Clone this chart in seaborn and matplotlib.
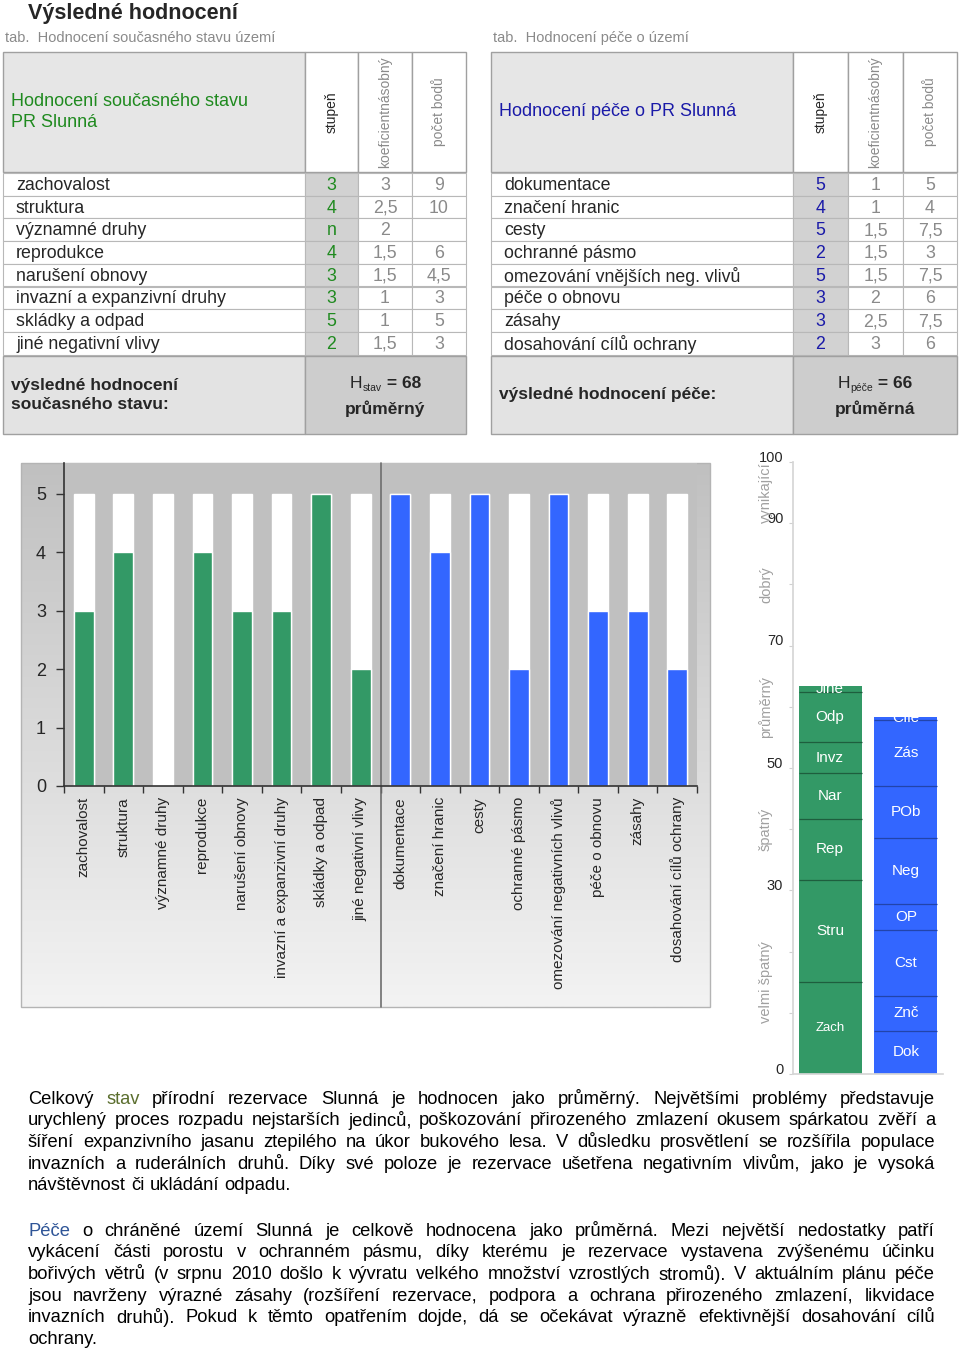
import numpy as np
import pandas as pd
import matplotlib
matplotlib.use("Agg")
import matplotlib.pyplot as plt
import matplotlib.transforms as mtransforms
from matplotlib.patches import Rectangle
from matplotlib.colors import LinearSegmentedColormap
import seaborn as sns

# --- tabulka: hodnoceni soucasneho stavu ---
stav_kriteria = ["zachovalost", "struktura", "významné druhy", "reprodukce",
                 "narušení obnovy", "invazní a expanzivní druhy", "skládky a odpad",
                 "jiné negativní vlivy"]
stav_stupen = ["3", "4", "n", "4", "3", "3", "5", "2"]
stav_koef = ["3", "2,5", "2", "1,5", "1,5", "1", "1", "1,5"]
stav_body = ["9", "10", "", "6", "4,5", "3", "5", "3"]

# --- tabulka: hodnoceni pece ---
pece_kriteria = ["dokumentace", "značení hranic", "cesty", "ochranné pásmo",
                 "omezování vnějších neg. vlivů", "péče o obnovu", "zásahy",
                 "dosahování cílů ochrany"]
pece_stupen = ["5", "4", "5", "2", "5", "3", "3", "2"]
pece_koef = ["1", "1", "1,5", "1,5", "1,5", "2", "2,5", "3"]
pece_body = ["5", "4", "7,5", "3", "7,5", "6", "7,5", "6"]

# --- sloupcovy graf stupnu ---
stav_osa = ["zachovalost", "struktura", "významné druhy", "reprodukce",
            "narušení obnovy", "invazní a expanzivní druhy", "skládky a odpad",
            "jiné negativní vlivy"]
stav_hodnoty = [3, 4, 0, 4, 3, 3, 5, 2]
pece_osa = ["dokumentace", "značení hranic", "cesty", "ochranné pásmo",
            "omezování negativních vlivů", "péče o obnovu", "zásahy",
            "dosahování cílů ochrany"]
pece_hodnoty = [5, 4, 5, 2, 5, 3, 3, 2]
max_stupen = 5

# --- skladany graf (procenta) ---
stav_zkratky = ["Zach", "Stru", "Rep", "Nar", "Invz", "Odp", "Jiné"]
stav_podil = [15, 16.7, 10, 7.5, 5, 8.3, 0.9]
pece_zkratky = ["Dok", "Znč", "Cst", "OP", "Neg", "POb", "Zás", "Cíle"]
pece_podil = [7.1, 5.7, 10.7, 4.3, 10.7, 8.6, 10.7, 0.6]
stupnice_popisky = ["velmi špatný", "špatný", "průměrný", "dobrý", "vynikající"]
stupnice_stred = [15, 40, 60, 80, 95]
stupnice_ticky = ["0", "", "", "30", "", "50", "", "70", "", "90", "100"]

# --- texty ---
odst_stav = [
    "Celkový stav přírodní rezervace Slunná je hodnocen jako průměrný. Největšími problémy představuje",
    "urychlený proces rozpadu nejstarších jedinců, poškozování přirozeného zmlazení okusem spárkatou zvěří a",
    "šíření expanzivního jasanu ztepilého na úkor bukového lesa. V důsledku prosvětlení se rozšířila populace",
    "invazních a ruderálních druhů. Díky své poloze je rezervace ušetřena negativním vlivům, jako je vysoká",
    "návštěvnost či ukládání odpadu.",
]
odst_pece = [
    "Péče o chráněné území Slunná je celkově hodnocena jako průměrná. Mezi největší nedostatky patří",
    "vykácení části porostu v ochranném pásmu, díky kterému je rezervace vystavena zvýšenému účinku",
    "bořivých větrů (v srpnu 2010 došlo k vývratu velkého množství vzrostlých stromů). V aktuálním plánu péče",
    "jsou navrženy výrazné zásahy (rozšíření rezervace, podpora a ochrana přirozeného zmlazení, likvidace",
    "invazních druhů). Pokud k těmto opatřením dojde, dá se očekávat výrazně efektivnější dosahování cílů",
    "ochrany.",
]

sns.set_theme(style="white")
plt.rcParams["font.family"] = ["Liberation Sans", "DejaVu Sans"]

ZELENA = "#339966"
MODRA = "#3366ff"
ZEL_TEXT = "#1f8a1f"
MOD_TEXT = "#1a1aa8"
SEDY_TEXT = "#8a8a8a"
OKRAJ = "#a0a0a0"

fig = plt.figure(figsize=(9.6, 13.51), dpi=100)
lay = fig.add_axes([0, 0, 1, 1], zorder=0)
lay.set_autoscale_on(False)
lay.set_xlim(0, 960)
lay.set_ylim(1351, 0)
lay.axis("off")
renderer = fig.canvas.get_renderer()


def sirka(s, **kw):
    t = lay.text(0, 0, s, **kw)
    w = t.get_window_extent(renderer=renderer).width
    t.remove()
    return w


lay.text(28, 13, "Výsledné hodnocení", fontsize=15.5, fontweight="bold", va="center")

RAD = 22.7


def tabulka(sl, nadpis, hlavicka, barva, kriteria, stupne, koef, body, souhrn, sub, hodnota, slovni):
    x0, x1, x2, x3, x4 = sl
    lay.text(x0 + 2, 38, nadpis, color=SEDY_TEXT, fontsize=10.5, va="center")
    lay.add_patch(Rectangle((x0, 52), x1 - x0, 120, fc="#e6e6e6", ec=OKRAJ, lw=1))
    for a, b in [(x1, x2), (x2, x3), (x3, x4)]:
        lay.add_patch(Rectangle((a, 52), b - a, 120, fc="white", ec=OKRAJ, lw=1))
    lay.text(x0 + 8, 112, hlavicka, color=barva, fontsize=13, va="center", linespacing=1.25)
    lay.text((x1 + x2) / 2, 112, "stupeň", rotation=90, ha="center", va="center", fontsize=10)
    lay.text((x2 + x3) / 2, 112, "koeficientnásobný", rotation=90, ha="center", va="center",
             fontsize=10, color=SEDY_TEXT)
    lay.text((x3 + x4) / 2, 112, "počet bodů", rotation=90, ha="center", va="center",
             fontsize=10, color=SEDY_TEXT)
    for i in range(len(kriteria)):
        y = 173 + i * RAD
        lay.add_patch(Rectangle((x0, y), x1 - x0, RAD, fc="white", ec="#b8b8b8", lw=0.8))
        lay.add_patch(Rectangle((x1, y), x2 - x1, RAD, fc="#d2d2d2", ec="#b8b8b8", lw=0.8))
        lay.add_patch(Rectangle((x2, y), x3 - x2, RAD, fc="white", ec="#b8b8b8", lw=0.8))
        lay.add_patch(Rectangle((x3, y), x4 - x3, RAD, fc="white", ec="#b8b8b8", lw=0.8))
        yc = y + RAD / 2 + 1
        lay.text(x0 + 13, yc, kriteria[i], fontsize=12.8, va="center")
        lay.text((x1 + x2) / 2, yc, stupne[i], fontsize=12.8, va="center", ha="center", color=barva)
        lay.text((x2 + x3) / 2, yc, koef[i], fontsize=12.8, va="center", ha="center", color=SEDY_TEXT)
        lay.text((x3 + x4) / 2, yc, body[i], fontsize=12.8, va="center", ha="center", color=SEDY_TEXT)
    ys = 173 + len(kriteria) * RAD + 1
    lay.add_patch(Rectangle((x0, ys), x1 - x0, 434 - ys, fc="#e3e3e3", ec=OKRAJ, lw=1))
    lay.add_patch(Rectangle((x1, ys), x4 - x1, 434 - ys, fc="#cdcdcd", ec=OKRAJ, lw=1))
    lay.text(x0 + 8, 395, souhrn, fontsize=12.5, fontweight="bold", va="center", linespacing=1.3)
    # H_sub = hodnota
    casti = [("H", dict(fontsize=12.5), 0), (sub, dict(fontsize=7.5), 4),
             (" = " + hodnota, dict(fontsize=12.5, fontweight="bold"), 0)]
    celkem = sum(sirka(s, **kw) for s, kw, _ in casti)
    x = (x1 + x4) / 2 - celkem / 2
    for s, kw, dy in casti:
        lay.text(x, 384 + dy, s, va="center", **kw)
        x += sirka(s, **kw)
    lay.text((x1 + x4) / 2, 409, slovni, fontsize=12.5, fontweight="bold", ha="center", va="center")


tabulka([3, 305, 358, 412, 466], "tab.  Hodnocení současného stavu území",
        "Hodnocení současného stavu\nPR Slunná", ZEL_TEXT, stav_kriteria, stav_stupen,
        stav_koef, stav_body, "výsledné hodnocení\nsoučasného stavu:", "stav", "68", "průměrný")
tabulka([491, 793, 848, 903, 957], "tab.  Hodnocení péče o území",
        "Hodnocení péče o PR Slunná", MOD_TEXT, pece_kriteria, pece_stupen,
        pece_koef, pece_body, "výsledné hodnocení péče:", "péče", "66", "průměrná")

# pozadi grafu s prechodem
prechod = LinearSegmentedColormap.from_list("prechod", ["#c0c0c0", "#f3f3f3"])
lay.imshow(np.linspace(0, 1, 256).reshape(-1, 1), cmap=prechod, aspect="auto",
           extent=(21, 710, 1007, 463), zorder=0.5)
lay.add_patch(Rectangle((21, 463), 689, 544, fc="none", ec="#b4b4b4", lw=1, zorder=0.6))

# --- sloupcovy graf ---
df = pd.DataFrame({
    "kriterium": stav_osa + pece_osa,
    "stupen": stav_hodnoty + pece_hodnoty,
    "skupina": ["stav"] * len(stav_osa) + ["pece"] * len(pece_osa),
})
df["maximum"] = max_stupen

ax = fig.add_axes([64 / 960, 1 - 786 / 1351, 633 / 960, 323 / 1351], zorder=1)
ax.set_facecolor("#c0c0c0")
sns.barplot(data=df, x="kriterium", y="maximum", color="white", width=0.5,
            saturation=1, errorbar=None, ax=ax)
sns.barplot(data=df, x="kriterium", y="stupen", hue="skupina",
            palette={"stav": ZELENA, "pece": MODRA}, dodge=False, width=0.5,
            saturation=1, errorbar=None, legend=False, ax=ax)
ax.set_ylim(0, 5.53)
ax.set_xlim(-0.5, len(df) - 0.5)
ax.set_yticks(range(0, 6))
ax.set_xticks(range(len(df)))
ax.set_xticklabels(df["kriterium"], rotation=90, fontsize=11, va="top")
ax.set_xticks(np.arange(-0.5, len(df), 1), minor=True)
ax.set_xlabel("")
ax.set_ylabel("")
ax.tick_params(axis="y", left=True, length=6, width=1, color="#333333", labelsize=13, pad=7)
ax.tick_params(axis="x", which="major", bottom=False, length=0, pad=8)
ax.tick_params(axis="x", which="minor", bottom=True, length=5, width=1, color="#333333")
for s in ["top", "right"]:
    ax.spines[s].set_visible(False)
for s in ["left", "bottom"]:
    ax.spines[s].set_color("#333333")
    ax.spines[s].set_linewidth(1.2)
ax.axvline(len(stav_osa) - 0.5, ymin=-(1007 - 786) / 323, ymax=1, color="#6e6e6e",
           lw=1.2, clip_on=False)

# --- skladany graf ---
ax2 = fig.add_axes([793 / 960, 1 - 1074 / 1351, 150 / 960, 612 / 1351], zorder=1)
ax2.set_facecolor("none")
for j, (zkratky, podily, barva, tmava) in enumerate([
        (stav_zkratky, stav_podil, ZELENA, "#1e5e3e"),
        (pece_zkratky, pece_podil, MODRA, "#2244aa")]):
    spodek = 0
    for k, (nazev, h) in enumerate(zip(zkratky, podily)):
        ax2.bar(j, h, bottom=spodek, width=0.83, color=barva, linewidth=0)
        if k > 0:
            ax2.hlines(spodek, j - 0.415, j + 0.415, color=tmava, lw=0.9)
        ax2.text(j, spodek + h / 2, nazev, ha="center", va="center", color="white",
                 fontsize=9.5 if nazev == "Zach" else 11)
        spodek += h
ax2.set_xlim(-0.49, 1.49)
ax2.set_ylim(0, 100)
ax2.set_xticks([])
ax2.set_yticks(range(0, 101, 10))
ax2.set_yticklabels(stupnice_ticky)
ax2.tick_params(axis="y", left=True, length=3, width=0.8, color="#d0d0d0", labelsize=10.5, pad=4)
posun = mtransforms.ScaledTranslation(0, 6 / 100, fig.dpi_scale_trans)
for lbl in ax2.get_yticklabels():
    lbl.set_transform(lbl.get_transform() + posun)
for s in ["top", "right"]:
    ax2.spines[s].set_visible(False)
for s in ["left", "bottom"]:
    ax2.spines[s].set_color("#d6d6d6")
trans = mtransforms.blended_transform_factory(ax2.transAxes, ax2.transData)
for popis, y in zip(stupnice_popisky, stupnice_stred):
    ax2.text(-0.18, y, popis, transform=trans, rotation=90, ha="center", va="center",
             color="#a0a0a0", fontsize=10.5)

# --- odstavce do bloku ---
FS = 13.2
mezera_slov = sirka("a b", fontsize=FS) - sirka("ab", fontsize=FS)


def odstavec(radky, y0, zvyrazni, barva):
    for i, radek in enumerate(radky):
        y = y0 + i * 21.7
        slova = radek.split(" ")
        w = [sirka(s, fontsize=FS) for s in slova]
        if i < len(radky) - 1 and len(slova) > 1:
            mez = (935 - 28 - sum(w)) / (len(slova) - 1)
        else:
            mez = mezera_slov
        x = 28
        for s, ws in zip(slova, w):
            c = barva if (i == 0 and s == zvyrazni) else "black"
            lay.text(x, y, s, fontsize=FS, va="center", color=c)
            x += ws + mez


odstavec(odst_stav, 1099, "stav", "#5b6e2e")
odstavec(odst_pece, 1231, "Péče", "#2f5597")

fig.savefig("out.png", dpi=100)
